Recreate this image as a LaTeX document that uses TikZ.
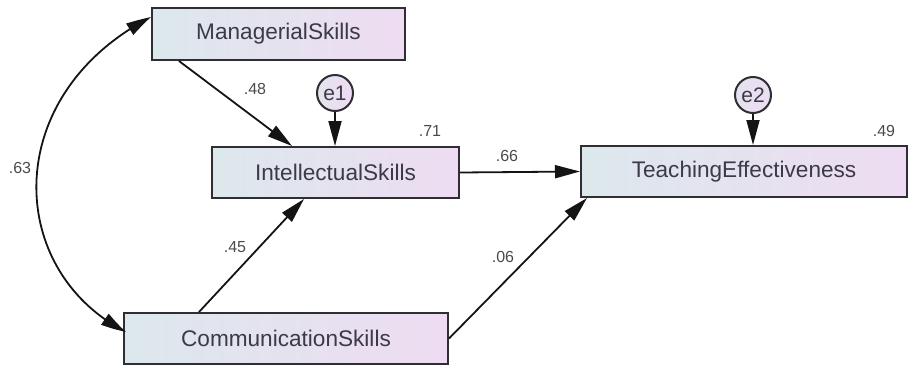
\documentclass[tikz,border=0pt]{standalone}
\usepackage{fontspec}
\setmainfont{Liberation Sans}
\usetikzlibrary{calc,arrows.meta,bending}
\definecolor{boxL}{HTML}{DCE8EC}
\definecolor{boxR}{HTML}{EEDCF2}
\definecolor{edgecol}{HTML}{2E2E33}
\definecolor{arrcol}{HTML}{141414}
\definecolor{txtcol}{HTML}{3C3A48}
\definecolor{numcol}{HTML}{4A4A4A}
\begin{document}
\begin{tikzpicture}[x=1pt,y=-1pt,
  varbox/.style={draw=edgecol,line width=2pt,left color=boxL,right color=boxR,
    inner sep=0pt,text=txtcol,font=\fontsize{22.6}{26}\selectfont},
  errcirc/.style={circle,draw=edgecol,line width=2pt,left color=boxL!60!boxR,right color=boxR,
    minimum size=36pt,inner sep=0pt,text=txtcol,font=\fontsize{21}{24}\selectfont},
  coef/.style={text=numcol,inner sep=0pt,font=\fontsize{16}{18}\selectfont},
  tip/.style={Triangle[length=25pt,width=13pt]},
  path/.style={draw=arrcol,line width=1.8pt,-{Triangle[length=25pt,width=13pt]}},
  cov/.style={draw=arrcol,line width=1.8pt,{Triangle[length=25pt,width=13pt,bend]}-{Triangle[length=25pt,width=13pt,bend]}}]
\useasboundingbox (0,0) rectangle (914,367);

% observed variables
\node[varbox,minimum width=253pt,minimum height=52pt] (M) at (278.5,34) {ManagerialSkills};
\node[varbox,minimum width=247pt,minimum height=51pt] (I) at (335.5,172.5) {IntellectualSkills};
\node[varbox,minimum width=326pt,minimum height=51pt] (T) at (744,171.5) {TeachingEffectiveness};
\node[varbox,minimum width=324pt,minimum height=51pt] (C) at (286,338.5) {CommunicationSkills};

% error terms
\node[errcirc] (e1) at (335,93) {e1};
\node[errcirc] (e2) at (753,95) {e2};

% regression paths
\draw[path] ($(M.south west)+(28,0)$) -- ($(I.north west)+(81,0)$);
\draw[path] ($(C.north west)+(76,0)$) -- ($(I.south west)+(93,0)$);
\draw[path] (I.east) -- (T.west);
\draw[path] (C.east) -- ($(T.south west)+(7,0)$);
\draw[path] (e1.south) -- (e1.south |- I.north);
\draw[path] (e2.south) -- (e2.south |- T.north);

% covariance
\draw[cov] ($(M.north west)+(0,10)$) .. controls (0,95) and (5,270) .. ($(C.north west)+(3,20)$);

% coefficients
\node[coef] (c48) at (255,89) {.48};
\node[coef] (c71) at (430,131) {.71};
\node[coef] (c66) at (507,156) {.66};
\node[coef] (c49) at (884,131) {.49};
\node[coef] (c45) at (235,247) {.45};
\node[coef] (c06) at (503,257) {.06};
\node[coef] (c63) at (20,168) {.63};
\end{tikzpicture}
\end{document}
